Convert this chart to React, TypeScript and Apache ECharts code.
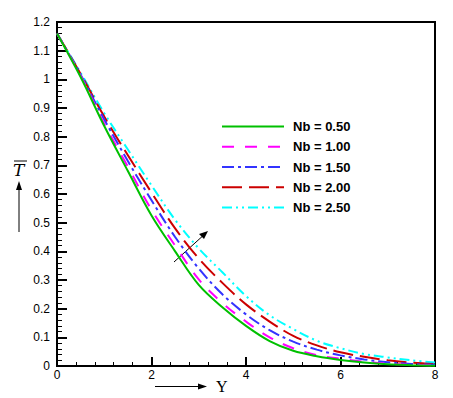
import React, { useEffect, useRef } from "react";
import * as echarts from "echarts";

const yCoords = [0, 0.5, 1, 1.5, 2, 2.5, 3, 3.5, 4, 4.5, 5, 5.5, 6, 6.5, 7, 7.5, 8];
const nb050 = [1.16, 1.008, 0.837, 0.68, 0.525, 0.4, 0.283, 0.205, 0.14, 0.087, 0.053, 0.034, 0.021, 0.012, 0.006, 0.003, 0.001];
const nb100 = [1.16, 1.012, 0.845, 0.695, 0.545, 0.42, 0.302, 0.22, 0.155, 0.1, 0.062, 0.038, 0.025, 0.015, 0.008, 0.004, 0.002];
const nb150 = [1.16, 1.016, 0.86, 0.715, 0.578, 0.45, 0.34, 0.25, 0.18, 0.125, 0.085, 0.057, 0.037, 0.023, 0.013, 0.007, 0.004];
const nb200 = [1.16, 1.019, 0.87, 0.735, 0.605, 0.48, 0.375, 0.29, 0.215, 0.155, 0.105, 0.072, 0.048, 0.032, 0.02, 0.012, 0.007];
const nb250 = [1.16, 1.023, 0.882, 0.755, 0.63, 0.51, 0.41, 0.327, 0.244, 0.177, 0.129, 0.088, 0.062, 0.042, 0.03, 0.02, 0.012];
const seriesNames = ["Nb = 0.50", "Nb = 1.00", "Nb = 1.50", "Nb = 2.00", "Nb = 2.50"];
const xTitle = "Y";
const yTitle = "T";

export default function App() {
  const ref = useRef<HTMLDivElement>(null);
  useEffect(() => {
    if (!ref.current) return;
    const chart = echarts.init(ref.current, null, { renderer: "svg" });
    const pair = (v: number[]) => yCoords.map((x, i) => [x, v[i]]);
    const styles = [
      { color: "#00c000", type: "solid" as any },
      { color: "#ff00ff", type: [12, 11] },
      { color: "#3333ff", type: [12, 4, 3, 4] },
      { color: "#cc0000", type: [20, 7] },
      { color: "#00ffff", type: [10, 4, 2, 4, 2, 4] },
    ];
    const data = [nb050, nb100, nb150, nb200, nb250];
    const font = "'Liberation Sans', Arial, sans-serif";
    chart.setOption({
      animation: false,
      grid: { left: 57, top: 22, right: 18, bottom: 32, show: true, borderColor: "#000", borderWidth: 2 },
      legend: {
        orient: "vertical",
        left: 221,
        top: 119,
        padding: 0,
        itemWidth: 62,
        itemHeight: 14,
        itemGap: 5.25,
        data: seriesNames,
        itemStyle: { opacity: 0 },
        textStyle: { fontFamily: font, fontWeight: "bold", fontSize: 13, lineHeight: 15, color: "#000", padding: [0, 0, 0, 4] },
      },
      xAxis: {
        type: "value",
        min: 0,
        max: 8,
        interval: 2,
        splitLine: { show: false },
        axisLine: { lineStyle: { color: "#000", width: 2 } },
        axisTick: { inside: true, length: 9, lineStyle: { color: "#000", width: 2 } },
        minorTick: { show: true, splitNumber: 5, length: 4, lineStyle: { color: "#000", width: 1 } },
        axisLabel: { color: "#000", fontSize: 12, fontFamily: font, margin: 3 },
      },
      yAxis: {
        type: "value",
        min: 0,
        max: 1.2,
        interval: 0.1,
        splitLine: { show: false },
        axisLine: { lineStyle: { color: "#000", width: 2 } },
        axisTick: { inside: true, length: 10, lineStyle: { color: "#000", width: 2 } },
        minorTick: { show: true, splitNumber: 5, length: 5, lineStyle: { color: "#000", width: 1 } },
        axisLabel: { color: "#000", fontSize: 12, fontFamily: font, margin: 7 },
      },
      series: data.map((v, i) => ({
        name: seriesNames[i],
        type: "line",
        data: pair(v),
        smooth: 0.35,
        symbol: "none",
        lineStyle: { color: styles[i].color, type: styles[i].type, width: 2 },
        itemStyle: { color: styles[i].color },
        z: 10 - i,
      })),
      graphic: [
        // in-plot arrow
        { type: "line", shape: { x1: 174, y1: 262, x2: 206, y2: 233 }, style: { stroke: "#000", lineWidth: 1 } },
        { type: "polygon", shape: { points: [[208, 231], [199, 234], [204, 239]] }, style: { fill: "#000" } },
        // y title
        { type: "text", left: 13, top: 161, style: { text: yTitle, font: "italic 17px 'DejaVu Serif', 'Liberation Serif', serif", fill: "#000" } },
        { type: "line", shape: { x1: 14, y1: 161, x2: 27, y2: 161 }, style: { stroke: "#000", lineWidth: 1 } },
        { type: "line", shape: { x1: 19, y1: 232, x2: 19, y2: 188 }, style: { stroke: "#000", lineWidth: 1 } },
        { type: "polygon", shape: { points: [[19, 181], [16, 190], [22, 190]] }, style: { fill: "#000" } },
        // x title
        { type: "line", shape: { x1: 155, y1: 386.5, x2: 200, y2: 386.5 }, style: { stroke: "#000", lineWidth: 1 } },
        { type: "polygon", shape: { points: [[207, 386.5], [198, 383.5], [198, 389.5]] }, style: { fill: "#000" } },
        { type: "text", left: 216, top: 378, style: { text: xTitle, font: "16px 'Liberation Serif', 'DejaVu Serif', serif", fill: "#000" } },
      ],
    });
    return () => chart.dispose();
  }, []);
  return <div ref={ref} style={{ position: "absolute", left: 0, top: 0, width: 453, height: 398 }} />;
}
